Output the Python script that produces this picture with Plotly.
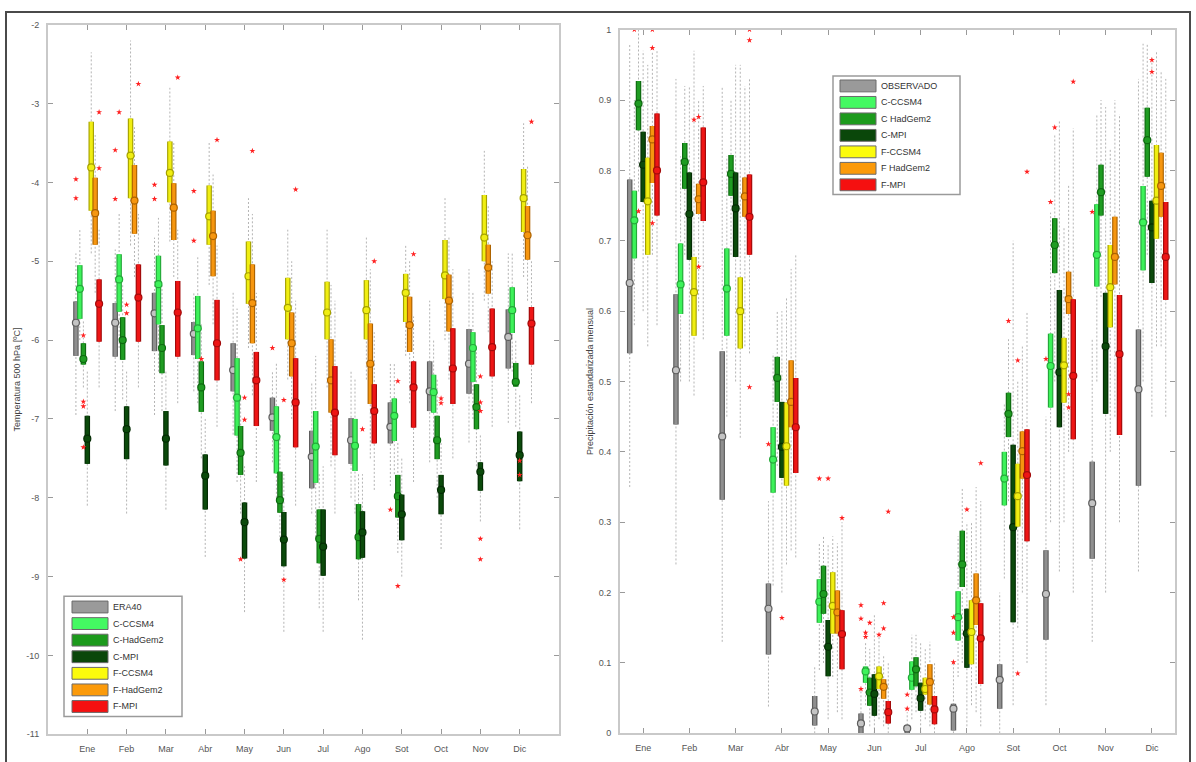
import plotly.graph_objects as go

# ---------------------------------------------------------------- data
MONTHS = ["Ene", "Feb", "Mar", "Abr", "May", "Jun", "Jul", "Ago", "Sot", "Oct", "Nov", "Dic"]
T_SERIES = ["ERA40", "C-CCSM4", "C-HadGem2", "C-MPI", "F-CCSM4", "F-HadGem2", "F-MPI"]
P_SERIES = ["OBSERVADO", "C-CCSM4", "C HadGem2", "C-MPI", "F-CCSM4", "F HadGem2", "F-MPI"]

# Temperature 500 hPa (ºC): rows = series, columns = months
T_Q3 = [
    [-5.51, -5.53, -5.40, -5.77, -6.04, -6.73, -7.15, -6.99, -6.79, -6.27, -5.86, -5.61],
    [-5.05, -4.91, -4.93, -5.44, -6.23, -6.84, -6.90, -7.00, -6.74, -6.44, -5.90, -5.33],
    [-6.04, -5.71, -5.81, -6.27, -7.09, -7.67, -8.15, -8.08, -7.71, -6.96, -6.56, -6.29],
    [-6.96, -6.84, -6.90, -7.45, -8.06, -8.18, -8.15, -8.17, -7.96, -7.71, -7.55, -7.16],
    [-3.23, -3.19, -3.48, -4.04, -4.75, -5.21, -5.26, -5.24, -5.16, -4.73, -4.16, -3.83],
    [-3.94, -3.78, -4.01, -4.36, -5.04, -5.65, -5.99, -5.79, -5.45, -5.17, -4.79, -4.30],
    [-5.23, -5.04, -5.25, -5.49, -6.15, -6.23, -6.33, -6.56, -6.27, -5.85, -5.60, -5.58],
]
T_MED = [
    [-5.78, -5.78, -5.66, -5.92, -6.38, -6.98, -7.48, -7.27, -7.10, -6.65, -6.30, -5.96],
    [-5.35, -5.23, -5.29, -5.85, -6.73, -7.23, -7.35, -7.34, -6.96, -6.66, -6.10, -5.62],
    [-6.24, -6.00, -6.10, -6.60, -7.43, -8.03, -8.52, -8.50, -7.98, -7.27, -6.85, -6.53],
    [-7.25, -7.13, -7.25, -7.72, -8.31, -8.53, -8.62, -8.44, -8.21, -7.90, -7.67, -7.46],
    [-3.81, -3.66, -3.88, -4.43, -5.19, -5.59, -5.65, -5.62, -5.40, -5.18, -4.70, -4.20],
    [-4.39, -4.23, -4.32, -4.68, -5.53, -6.04, -6.51, -6.30, -5.81, -5.50, -5.08, -4.67],
    [-5.54, -5.46, -5.65, -6.04, -6.51, -6.79, -6.92, -6.90, -6.60, -6.36, -6.09, -5.79],
]
T_Q1 = [
    [-6.20, -6.21, -6.14, -6.19, -6.65, -7.15, -7.88, -7.57, -7.31, -6.90, -6.68, -6.36],
    [-5.73, -5.64, -5.80, -6.24, -7.21, -7.69, -7.81, -7.66, -7.28, -6.92, -6.53, -5.91],
    [-6.31, -6.25, -6.42, -6.91, -7.71, -8.19, -8.83, -8.78, -8.25, -7.51, -7.13, -6.59],
    [-7.57, -7.51, -7.59, -8.15, -8.77, -8.87, -8.99, -8.76, -8.54, -8.21, -7.91, -7.79],
    [-4.36, -4.20, -4.25, -4.79, -5.54, -5.99, -5.99, -5.99, -5.77, -5.48, -5.00, -4.63],
    [-4.79, -4.65, -4.73, -5.19, -6.04, -6.46, -6.92, -6.81, -6.15, -5.89, -5.41, -4.98],
    [-6.02, -6.02, -6.21, -6.51, -7.09, -7.36, -7.46, -7.31, -7.11, -6.81, -6.46, -6.31],
]
T_WHI = [
    [-4.90, -4.85, -4.70, -5.40, -5.40, -6.40, -6.55, -6.40, -6.30, -5.50, -5.10, -4.90],
    [-4.60, -4.40, -4.45, -4.95, -5.60, -6.30, -6.20, -6.50, -6.30, -6.00, -5.40, -4.90],
    [-5.75, -5.30, -5.30, -5.80, -6.70, -7.20, -7.70, -7.70, -7.30, -6.50, -6.10, -6.00],
    [-6.40, -6.40, -6.40, -7.00, -7.60, -7.70, -7.60, -7.70, -7.50, -7.30, -7.20, -6.70],
    [-2.35, -2.20, -2.80, -3.50, -4.20, -4.60, -4.60, -4.70, -4.80, -4.20, -3.60, -3.25],
    [-3.40, -3.30, -3.50, -3.90, -4.40, -5.00, -5.30, -5.10, -5.00, -4.70, -4.30, -3.80],
    [-4.60, -4.40, -4.60, -4.80, -5.40, -5.50, -5.50, -5.90, -5.70, -5.10, -5.00, -5.00],
]
T_WLO = [
    [-6.95, -6.90, -6.95, -6.65, -7.20, -7.55, -8.20, -8.00, -7.85, -7.55, -7.30, -7.05],
    [-6.00, -6.10, -6.40, -6.80, -7.80, -8.00, -8.50, -8.20, -7.70, -7.30, -7.00, -6.40],
    [-6.60, -6.75, -6.90, -7.50, -8.20, -8.50, -9.40, -9.30, -8.70, -8.00, -7.60, -7.10],
    [-8.10, -8.20, -8.15, -8.75, -9.45, -9.70, -9.70, -9.80, -9.00, -8.65, -8.30, -8.40],
    [-4.90, -4.80, -4.75, -5.30, -6.10, -6.50, -6.60, -6.50, -6.20, -6.00, -5.50, -5.20],
    [-5.40, -5.20, -5.20, -5.80, -6.70, -7.00, -7.60, -7.50, -6.80, -6.50, -5.90, -5.50],
    [-6.60, -6.60, -6.80, -7.10, -7.80, -8.10, -8.20, -7.90, -7.80, -7.50, -7.10, -6.80],
]
# outliers: (month number, series index, value)
T_OUT = [
    (1, 0, -3.96), (1, 0, -4.20), (1, 6, -3.11), (1, 6, -3.82), (1, 2, -5.94),
    (1, 2, -6.78), (1, 2, -6.84), (1, 2, -7.36),
    (2, 0, -3.59), (2, 0, -4.21), (2, 1, -3.11), (2, 6, -2.75), (2, 3, -5.55), (2, 3, -5.66),
    (3, 0, -4.03), (3, 0, -4.21), (3, 6, -2.67),
    (4, 0, -4.11), (4, 0, -4.74), (4, 6, -3.46), (4, 2, -6.24),
    (5, 5, -3.60), (5, 3, -6.73), (5, 3, -7.01), (5, 2, -8.78),
    (6, 0, -6.10), (6, 3, -6.76), (6, 6, -4.09), (6, 3, -9.04),
    (8, 6, -5.00), (8, 3, -7.13),
    (9, 0, -8.15), (9, 2, -9.12), (9, 2, -6.52), (9, 6, -4.91),
    (10, 3, -6.74), (10, 3, -6.80),
    (11, 3, -6.46), (11, 3, -6.79), (11, 3, -6.90), (11, 3, -8.52), (11, 3, -8.78),
    (12, 3, -7.53), (12, 3, -7.71), (12, 6, -3.23),
]

# Standardised monthly precipitation: rows = series, columns = months
P_Q3 = [
    [0.787, 0.624, 0.543, 0.213, 0.053, 0.028, 0.011, 0.042, 0.098, 0.260, 0.386, 0.574],
    [0.771, 0.696, 0.689, 0.435, 0.219, 0.095, 0.102, 0.202, 0.400, 0.568, 0.752, 0.778],
    [0.927, 0.839, 0.822, 0.535, 0.238, 0.079, 0.108, 0.288, 0.484, 0.732, 0.808, 0.889],
    [0.855, 0.797, 0.797, 0.471, 0.161, 0.084, 0.072, 0.177, 0.410, 0.630, 0.626, 0.757],
    [0.818, 0.677, 0.648, 0.470, 0.229, 0.095, 0.079, 0.189, 0.383, 0.562, 0.694, 0.836],
    [0.863, 0.781, 0.790, 0.530, 0.203, 0.077, 0.098, 0.227, 0.429, 0.656, 0.734, 0.825],
    [0.881, 0.861, 0.794, 0.505, 0.175, 0.046, 0.053, 0.185, 0.432, 0.617, 0.623, 0.755],
]
P_MED = [
    [0.640, 0.516, 0.422, 0.177, 0.031, 0.014, 0.007, 0.035, 0.076, 0.198, 0.327, 0.489],
    [0.729, 0.638, 0.632, 0.389, 0.187, 0.088, 0.079, 0.165, 0.362, 0.522, 0.680, 0.726],
    [0.895, 0.812, 0.795, 0.505, 0.198, 0.058, 0.091, 0.240, 0.454, 0.694, 0.769, 0.843],
    [0.808, 0.738, 0.746, 0.407, 0.123, 0.056, 0.050, 0.142, 0.293, 0.513, 0.550, 0.719],
    [0.756, 0.627, 0.600, 0.408, 0.181, 0.081, 0.063, 0.144, 0.337, 0.523, 0.634, 0.757],
    [0.844, 0.759, 0.763, 0.471, 0.172, 0.066, 0.073, 0.189, 0.401, 0.617, 0.677, 0.778],
    [0.800, 0.783, 0.734, 0.435, 0.141, 0.030, 0.034, 0.135, 0.367, 0.508, 0.539, 0.677],
]
P_Q1 = [
    [0.540, 0.439, 0.332, 0.112, 0.011, 0.000, 0.000, 0.004, 0.035, 0.133, 0.248, 0.352],
    [0.675, 0.596, 0.565, 0.342, 0.157, 0.072, 0.062, 0.132, 0.324, 0.463, 0.635, 0.658],
    [0.857, 0.774, 0.764, 0.471, 0.170, 0.039, 0.067, 0.208, 0.421, 0.654, 0.736, 0.791],
    [0.755, 0.673, 0.677, 0.363, 0.081, 0.025, 0.032, 0.093, 0.158, 0.435, 0.454, 0.640],
    [0.680, 0.565, 0.547, 0.352, 0.142, 0.063, 0.055, 0.098, 0.294, 0.470, 0.577, 0.703],
    [0.782, 0.738, 0.734, 0.435, 0.142, 0.049, 0.041, 0.154, 0.362, 0.596, 0.638, 0.734],
    [0.736, 0.728, 0.680, 0.370, 0.091, 0.014, 0.013, 0.070, 0.273, 0.418, 0.424, 0.616],
]
P_WHI = [
    [0.98, 0.93, 0.92, 0.33, 0.095, 0.06, 0.03, 0.10, 0.20, 0.45, 0.56, 0.93],
    [0.90, 0.82, 0.82, 0.54, 0.27, 0.13, 0.14, 0.28, 0.47, 0.74, 0.88, 0.98],
    [1.00, 0.92, 0.90, 0.60, 0.28, 0.12, 0.14, 0.35, 0.56, 0.85, 0.90, 0.98],
    [0.97, 0.92, 0.95, 0.60, 0.27, 0.17, 0.13, 0.30, 0.70, 0.87, 0.89, 0.96],
    [0.95, 0.97, 0.95, 0.62, 0.28, 0.14, 0.12, 0.30, 0.50, 0.72, 0.83, 0.97],
    [0.97, 0.90, 0.92, 0.66, 0.27, 0.11, 0.13, 0.35, 0.55, 0.78, 0.90, 0.94],
    [0.97, 0.92, 0.93, 0.68, 0.30, 0.10, 0.10, 0.33, 0.60, 0.86, 0.88, 0.93],
]
P_WLO = [
    [0.35, 0.24, 0.13, 0.038, 0.00, 0.00, 0.00, 0.00, 0.00, 0.04, 0.13, 0.23],
    [0.58, 0.50, 0.45, 0.21, 0.09, 0.04, 0.02, 0.08, 0.22, 0.30, 0.50, 0.50],
    [0.77, 0.68, 0.68, 0.38, 0.10, 0.01, 0.03, 0.10, 0.33, 0.50, 0.62, 0.68],
    [0.60, 0.50, 0.50, 0.20, 0.02, 0.00, 0.00, 0.01, 0.04, 0.23, 0.20, 0.45],
    [0.55, 0.48, 0.42, 0.24, 0.08, 0.02, 0.02, 0.04, 0.15, 0.30, 0.40, 0.55],
    [0.68, 0.60, 0.55, 0.26, 0.03, 0.01, 0.01, 0.03, 0.20, 0.40, 0.45, 0.55],
    [0.58, 0.56, 0.54, 0.25, 0.02, 0.00, 0.00, 0.01, 0.10, 0.20, 0.30, 0.45],
]
P_OUT = [
    (1, 1, 1.000), (1, 5, 1.000), (1, 5, 0.974), (1, 2, 0.742), (1, 5, 0.725),
    (2, 4, 0.872), (2, 5, 0.876), (2, 5, 0.663),
    (3, 6, 1.000), (3, 6, 0.985), (3, 6, 0.492),
    (4, 0, 0.411), (4, 3, 0.164),
    (5, 1, 0.362), (5, 3, 0.362), (5, 6, 0.306),
    (6, 0, 0.182), (6, 0, 0.163), (6, 0, 0.063), (6, 1, 0.143), (6, 1, 0.137),
    (6, 2, 0.157), (6, 4, 0.140), (6, 5, 0.185), (6, 5, 0.149), (6, 6, 0.315),
    (7, 0, 0.055), (7, 0, 0.035),
    (8, 0, 0.101), (8, 0, 0.143), (8, 0, 0.165), (8, 3, 0.318), (8, 6, 0.384),
    (9, 2, 0.586), (9, 4, 0.530), (9, 4, 0.085), (9, 6, 0.798),
    (10, 0, 0.532), (10, 1, 0.755), (10, 2, 0.861), (10, 6, 0.926), (10, 5, 0.482), (10, 5, 0.463),
    (11, 0, 0.741),
    (12, 3, 0.957), (12, 3, 0.940),
]

# ---------------------------------------------------------------- style
FILL = ["#8f8f8f", "#3df25a", "#1f9c22", "#0b4a0b", "#f0ee12", "#f6960f", "#ee1515"]
EDGE = ["#5e5e5e", "#25a83a", "#0e6a10", "#042c04", "#a6a200", "#ad6300", "#a30b0b"]
MED_FILL = ["#c4c4c4"] + FILL[1:]
KEY_FILL = ["#9a9a9a", "#44f962", "#1c9a1c", "#0a470a", "#fbfb0c", "#fb9a0a", "#f51010"]
OFFSETS = [-0.29, -0.19, -0.1, 0.0, 0.1, 0.2, 0.3]
FONT = "Liberation Sans, Arial, sans-serif"
W, H = 1196, 762

fig = go.Figure()


def seg(xs, lo, hi):
    """Vertical segments x, lo..hi separated by gaps."""
    px, py = [], []
    for x, a, b in zip(xs, lo, hi):
        px += [x, x, None]
        py += [a, b, None]
    return px, py


def add_panel(xa, ya, names, q1, med, q3, wlo, whi, outliers):
    n = len(MONTHS)
    xpos = [[m + 1 + OFFSETS[s] for m in range(n)] for s in range(len(names))]
    # whiskers
    for s in range(len(names)):
        px, py = seg(xpos[s], wlo[s], whi[s])
        fig.add_trace(go.Scatter(x=px, y=py, mode="lines", xaxis=xa, yaxis=ya,
                                 line=dict(color="#b4b4b4", width=1, dash="2px,2px"),
                                 showlegend=False, hoverinfo="skip"))
    # boxes (edge + fill) and medians
    for s in range(len(names)):
        px, py = seg(xpos[s], q1[s], q3[s])
        fig.add_trace(go.Scatter(x=px, y=py, mode="lines", xaxis=xa, yaxis=ya,
                                 line=dict(color=EDGE[s], width=5.5),
                                 showlegend=False, hoverinfo="skip"))
        fig.add_trace(go.Scatter(x=px, y=py, mode="lines", xaxis=xa, yaxis=ya,
                                 line=dict(color=FILL[s], width=3.2),
                                 showlegend=False, hoverinfo="skip"))
        fig.add_trace(go.Scatter(x=xpos[s], y=med[s], mode="markers", xaxis=xa, yaxis=ya,
                                 marker=dict(symbol="circle", size=7, color=MED_FILL[s],
                                             line=dict(color=EDGE[s], width=1.2)),
                                 showlegend=False, hoverinfo="skip"))
    # outliers
    ox = [m + OFFSETS[s] for m, s, v in outliers]
    oy = [v for m, s, v in outliers]
    fig.add_trace(go.Scatter(x=ox, y=oy, mode="markers", xaxis=xa, yaxis=ya,
                             marker=dict(symbol="star", size=4.5, color="#ff2020",
                                         line=dict(width=0)),
                             showlegend=False, hoverinfo="skip"))


add_panel("x", "y", T_SERIES, T_Q1, T_MED, T_Q3, T_WLO, T_WHI, T_OUT)
add_panel("x2", "y2", P_SERIES, P_Q1, P_MED, P_Q3, P_WLO, P_WHI, P_OUT)

# ---------------------------------------------------------------- keys (pixel boxes)
shapes = [dict(type="rect", xref="paper", yref="paper",
               x0=6 / W, x1=1190 / W, y0=1 - 772 / H, y1=1 - 7 / H,
               line=dict(color="#4a4a4a", width=2), fillcolor="rgba(0,0,0,0)")]
annotations = []


def add_key(names, left, top, right, bottom, sw_left, first_y, step):
    shapes.append(dict(type="rect", xref="paper", yref="paper",
                       x0=left / W, x1=right / W, y0=1 - bottom / H, y1=1 - top / H,
                       line=dict(color="#9a9a9a", width=1.5), fillcolor="white"))
    for i, name in enumerate(names):
        cy = first_y + i * step
        shapes.append(dict(type="rect", xref="paper", yref="paper",
                           x0=sw_left / W, x1=(sw_left + 36) / W,
                           y0=1 - (cy + 6) / H, y1=1 - (cy - 6) / H,
                           line=dict(color="#6a6a6a", width=1), fillcolor=KEY_FILL[i]))
        annotations.append(dict(xref="paper", yref="paper", x=(sw_left + 39) / W,
                                y=1 - cy / H, xanchor="left", yanchor="middle",
                                text=name, showarrow=False,
                                font=dict(family=FONT, size=9, color="#333333")))


add_key(T_SERIES, 64, 599, 182, 721, 72, 610, 16.8)
add_key(P_SERIES, 833, 72, 960, 192, 840, 82, 16.7)

axis_common = dict(showline=True, linecolor="#c9c9c9", linewidth=2, mirror="ticks",
                   ticks="inside", ticklen=5, tickwidth=1, tickcolor="#9a9a9a",
                   showgrid=False, zeroline=False, ticklabelstandoff=5,
                   tickfont=dict(family=FONT, size=9, color="#555555"))

t_ticks = list(range(-11, -1))
p_ticks = [i / 10 for i in range(11)]

fig.update_layout(
    width=W, height=H,
    margin=dict(l=0, r=0, t=0, b=0),
    paper_bgcolor="white", plot_bgcolor="white",
    showlegend=False,
    font=dict(family=FONT, size=9, color="#444444"),
    xaxis=dict(domain=[48 / W, 559 / W], range=[0, 13], anchor="y",
               tickvals=list(range(1, 13)), ticktext=MONTHS, **axis_common),
    yaxis=dict(domain=[1 - 739 / H, 1 - 20 / H], range=[-11, -2], anchor="x",
               tickvals=t_ticks, ticktext=[str(v) for v in t_ticks],
               title=dict(text="Temperatura 500 hPa [ºC]", standoff=4,
                          font=dict(family=FONT, size=9, color="#444444")),
               **axis_common),
    xaxis2=dict(domain=[620 / W, 1175 / W], range=[0.5, 12.5], anchor="y2",
                tickvals=list(range(1, 13)), ticktext=MONTHS, **axis_common),
    yaxis2=dict(domain=[1 - 738 / H, 1 - 25 / H], range=[0, 1], anchor="x2",
                tickvals=p_ticks, ticktext=[("%g" % v) for v in p_ticks],
                title=dict(text="Precipitación estandarizada mensual", standoff=4,
                           font=dict(family=FONT, size=9, color="#444444")),
                **axis_common),
    shapes=shapes,
    annotations=annotations,
)

fig.write_html("out.html")
